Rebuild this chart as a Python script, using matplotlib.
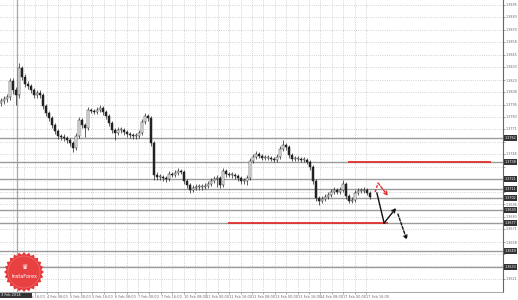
import matplotlib.pyplot as plt
import numpy as np
from matplotlib.patches import Polygon, Rectangle

# bar closes / highs / lows (first open given, then open = previous close)
first_open = 1.3797
closes = [1.3799, 1.3801, 1.3803, 1.3819, 1.3810, 1.3805, 1.3832, 1.3823, 1.3816, 1.3814,
          1.3810, 1.3805, 1.3807, 1.3805, 1.3794, 1.3787, 1.3782, 1.3775, 1.3769, 1.3764,
          1.3763, 1.3762, 1.3760, 1.3757, 1.3752, 1.3764, 1.3780, 1.3775, 1.3772, 1.3790,
          1.3789, 1.3788, 1.3790, 1.3792, 1.3788, 1.3784, 1.3777, 1.3770, 1.3767, 1.3770,
          1.3770, 1.3768, 1.3766, 1.3765, 1.3764, 1.3764, 1.3767, 1.3778, 1.3784, 1.3782,
          1.3757, 1.3725, 1.3723, 1.3723, 1.3722, 1.3721, 1.3726, 1.3725, 1.3727, 1.3729,
          1.3728, 1.3719, 1.3715, 1.3710, 1.3712, 1.3713, 1.3713, 1.3713, 1.3714, 1.3716,
          1.3719, 1.3721, 1.3722, 1.3715, 1.3729, 1.3726, 1.3725, 1.3725, 1.3724, 1.3722,
          1.3719, 1.3719, 1.3722, 1.3739, 1.3743, 1.3746, 1.3744, 1.3742, 1.3742, 1.3742,
          1.3741, 1.3740, 1.3743, 1.3751, 1.3755, 1.3753, 1.3745, 1.3741, 1.3741, 1.3741,
          1.3740, 1.3740, 1.3738, 1.3733, 1.3719, 1.3702, 1.3699, 1.3701, 1.3703, 1.3705,
          1.3708, 1.3710, 1.3708, 1.3710, 1.3716, 1.3704, 1.3699, 1.3700, 1.3707, 1.3709,
          1.3709, 1.3710, 1.3707, 1.3703]
highs = [1.3802, 1.3804, 1.3806, 1.3822, 1.3822, 1.3813, 1.3837, 1.3834, 1.3826, 1.3819,
         1.3816, 1.3812, 1.3810, 1.3810, 1.3807, 1.3796, 1.3789, 1.3784, 1.3777, 1.3771,
         1.3766, 1.3766, 1.3764, 1.3762, 1.3759, 1.3767, 1.3783, 1.3782, 1.3777, 1.3793,
         1.3792, 1.3791, 1.3793, 1.3795, 1.3794, 1.3790, 1.3786, 1.3779, 1.3772, 1.3773,
         1.3773, 1.3772, 1.3770, 1.3768, 1.3767, 1.3767, 1.3770, 1.3781, 1.3787, 1.3786,
         1.3784, 1.3759, 1.3728, 1.3726, 1.3725, 1.3724, 1.3729, 1.3728, 1.3730, 1.3732,
         1.3731, 1.3730, 1.3721, 1.3717, 1.3715, 1.3716, 1.3716, 1.3716, 1.3717, 1.3719,
         1.3722, 1.3724, 1.3725, 1.3724, 1.3732, 1.3731, 1.3728, 1.3728, 1.3727, 1.3726,
         1.3724, 1.3722, 1.3725, 1.3742, 1.3746, 1.3749, 1.3748, 1.3746, 1.3745, 1.3745,
         1.3744, 1.3743, 1.3746, 1.3754, 1.3760, 1.3757, 1.3755, 1.3747, 1.3744, 1.3744,
         1.3743, 1.3743, 1.3742, 1.3740, 1.3735, 1.3721, 1.3704, 1.3704, 1.3706, 1.3708,
         1.3711, 1.3713, 1.3712, 1.3713, 1.3720, 1.3718, 1.3706, 1.3703, 1.3710, 1.3712,
         1.3712, 1.3713, 1.3712, 1.3709]
lows = [1.3794, 1.3796, 1.3798, 1.3800, 1.3806, 1.3795, 1.3802, 1.3820, 1.3813, 1.3811,
        1.3807, 1.3802, 1.3802, 1.3802, 1.3791, 1.3784, 1.3779, 1.3772, 1.3766, 1.3761,
        1.3760, 1.3759, 1.3757, 1.3754, 1.3748, 1.3750, 1.3762, 1.3772, 1.3763, 1.3770,
        1.3787, 1.3786, 1.3786, 1.3788, 1.3785, 1.3781, 1.3774, 1.3767, 1.3760, 1.3765,
        1.3767, 1.3765, 1.3763, 1.3762, 1.3761, 1.3761, 1.3762, 1.3765, 1.3776, 1.3779,
        1.3754, 1.3720, 1.3720, 1.3720, 1.3719, 1.3718, 1.3719, 1.3723, 1.3723, 1.3725,
        1.3726, 1.3716, 1.3712, 1.3707, 1.3708, 1.3710, 1.3710, 1.3710, 1.3711, 1.3712,
        1.3714, 1.3717, 1.3713, 1.3712, 1.3713, 1.3723, 1.3723, 1.3722, 1.3721, 1.3719,
        1.3716, 1.3716, 1.3715, 1.3720, 1.3737, 1.3741, 1.3742, 1.3740, 1.3740, 1.3740,
        1.3739, 1.3738, 1.3738, 1.3741, 1.3749, 1.3750, 1.3742, 1.3739, 1.3739, 1.3739,
        1.3738, 1.3738, 1.3736, 1.3730, 1.3716, 1.3699, 1.3695, 1.3697, 1.3699, 1.3701,
        1.3703, 1.3706, 1.3706, 1.3706, 1.3708, 1.3701, 1.3697, 1.3697, 1.3698, 1.3705,
        1.3707, 1.3707, 1.3705, 1.3701]

# horizontal levels (gray), red support/resistance
levels = [1.3762, 1.3738, 1.3721, 1.3711, 1.3702, 1.3690, 1.3677, 1.3649, 1.3633]
red_levels = [1.3738, 1.3677]
red_from = [115.7, 75.7]
red_to = [163.3, 129.0]

# forecast arrows (bar, price)
red_path_x = [124.7, 125.7, 129.0]
red_path_y = [1.3708, 1.3717, 1.3704]
black_path_x = [125.3, 127.7, 131.7]
black_path_y = [1.3707, 1.3677, 1.3692]
dash_path_x = [132.3, 135.3]
dash_path_y = [1.3686, 1.3660]

price_ticks = [1.3895, 1.3883, 1.3870, 1.3858, 1.3845, 1.3833, 1.3820, 1.3808, 1.3795,
               1.3783, 1.3771, 1.3758, 1.3746, 1.3733, 1.3721, 1.3708, 1.3696, 1.3683,
               1.3671, 1.3658, 1.3646, 1.3634, 1.3621]
time_labels = ["3 Feb 16:00", "4 Feb 08:00", "5 Feb 00:00", "5 Feb 16:00", "6 Feb 08:00",
               "7 Feb 00:00", "7 Feb 16:00", "10 Feb 08:00", "11 Feb 00:00", "11 Feb 16:00",
               "12 Feb 08:00", "13 Feb 00:00", "13 Feb 16:00", "14 Feb 08:00",
               "17 Feb 00:00", "17 Feb 16:00"]

opens = [first_open] + closes[:-1]
n = len(closes)
x = np.arange(n)

fig = plt.figure(figsize=(5.18, 3.0), dpi=100)
ax = fig.add_axes([0, 8 / 300, 503 / 518, 292 / 300])
ax.set_xlim(-1 / 3, 502 / 3)
ax.set_ylim(1.3608, 1.3900)

# grid
tick_pos = 7.667 + 7.6 * np.arange(len(time_labels))
ax.set_xticks(tick_pos)
ax.set_xticks(tick_pos - 3.8, minor=True)
ax.set_xticklabels(time_labels, fontsize=2.5, ha="left", color="#555555")
ax.set_yticks(price_ticks)
# tick labels hidden where a level box sits on top of them
ylabels = ["" if min(abs(p - lv) for lv in levels) < 0.0005 else f"{p:.4f}" for p in price_ticks]
ax.set_yticklabels(ylabels, fontsize=2.4, color="#666666")
ax.yaxis.tick_right()
ax.tick_params(axis="y", length=1.2, pad=1.0, width=0.4, colors="#666666")
ax.tick_params(axis="x", which="both", length=1.5, pad=0.8, width=0.4, colors="#666666")
ax.grid(True, which="both", color="#c4c4c4", linestyle=":", linewidth=0.6)
for s in ["top", "left"]:
    ax.spines[s].set_visible(False)
ax.spines["right"].set_color("#666666")
ax.spines["bottom"].set_color("#999999")
ax.spines["right"].set_linewidth(0.8)
ax.spines["bottom"].set_linewidth(0.6)

ax.axvline(5.3, color="#a8a8a8", linewidth=0.9)

# levels
for lv in levels:
    ax.axhline(lv, color="#9c9c9c", linewidth=1.0, zorder=2)
    ax.text(1.003, lv, f"{lv:.4f}", transform=ax.get_yaxis_transform(), fontsize=2.4,
            color="white", va="center", ha="left", clip_on=False, zorder=6,
            bbox=dict(boxstyle="square,pad=0.25", fc="#333333", ec="none"))
for lv, a, b in zip(red_levels, red_from, red_to):
    ax.hlines(lv, a, b, color="#e0312f", linewidth=1.3, zorder=3)

# candles
ax.vlines(x, lows, highs, color="#222222", linewidth=0.5, zorder=4)
for i in range(n):
    o, c = opens[i], closes[i]
    h = max(abs(c - o), 0.00006)
    bull = c >= o
    ax.add_patch(Rectangle((i - 0.32, min(o, c)), 0.64, h, facecolor="white" if bull else "#222222",
                           edgecolor="#222222", linewidth=0.35, zorder=5))

# forecast arrows
ax.plot(red_path_x[:2], red_path_y[:2], color="#e0312f", linewidth=1.0, linestyle=(0, (2, 1.2)), zorder=6)
ax.annotate("", xy=(red_path_x[2], red_path_y[2]), xytext=(red_path_x[1], red_path_y[1]),
            arrowprops=dict(arrowstyle="->", color="#e0312f", lw=1.0, linestyle=(0, (2, 1.2)),
                            mutation_scale=6, shrinkA=0, shrinkB=0), zorder=6)
ax.plot(black_path_x[:2], black_path_y[:2], color="#111111", linewidth=1.0, zorder=6)
ax.annotate("", xy=(black_path_x[2], black_path_y[2]), xytext=(black_path_x[1], black_path_y[1]),
            arrowprops=dict(arrowstyle="->", color="#111111", lw=1.0,
                            mutation_scale=6, shrinkA=0, shrinkB=0), zorder=6)
ax.annotate("", xy=(dash_path_x[1], dash_path_y[1]), xytext=(dash_path_x[0], dash_path_y[0]),
            arrowprops=dict(arrowstyle="->", color="#111111", lw=1.0, linestyle=(0, (2, 1.2)),
                            mutation_scale=6, shrinkA=0, shrinkB=0), zorder=6)

# overlay for logo and date box (pixel coords)
ov = fig.add_axes([0, 0, 1, 1])
ov.set_xlim(0, 518)
ov.set_ylim(300, 0)
ov.axis("off")
cx, cy = 24, 272
ang = np.linspace(0, 2 * np.pi, 49)[:-1]
rad = np.where(np.arange(48) % 2 == 0, 20, 17.5)
ov.add_patch(Polygon(np.c_[cx + rad * np.cos(ang), cy + rad * np.sin(ang)],
                     closed=True, fc="#e53a3a", ec="none", zorder=1))
ov.add_patch(plt.Circle((cx, cy), 16, fc="#e84040", ec="#f07070", lw=0.5, zorder=2))
ov.text(cx, cy - 5, "♛", color="white", fontsize=5, ha="center", va="center", zorder=3)
ov.text(cx, cy + 4, "InstaForex", color="white", fontsize=3.6, ha="center", va="center", zorder=3)
ov.add_patch(Rectangle((0, 292.5), 32, 5.5, fc="#333333", ec="none", zorder=4))
ov.text(1, 295.3, "3 Feb 2014", color="white", fontsize=2.5, ha="left", va="center", zorder=5)

fig.savefig("out.png", dpi=100)
